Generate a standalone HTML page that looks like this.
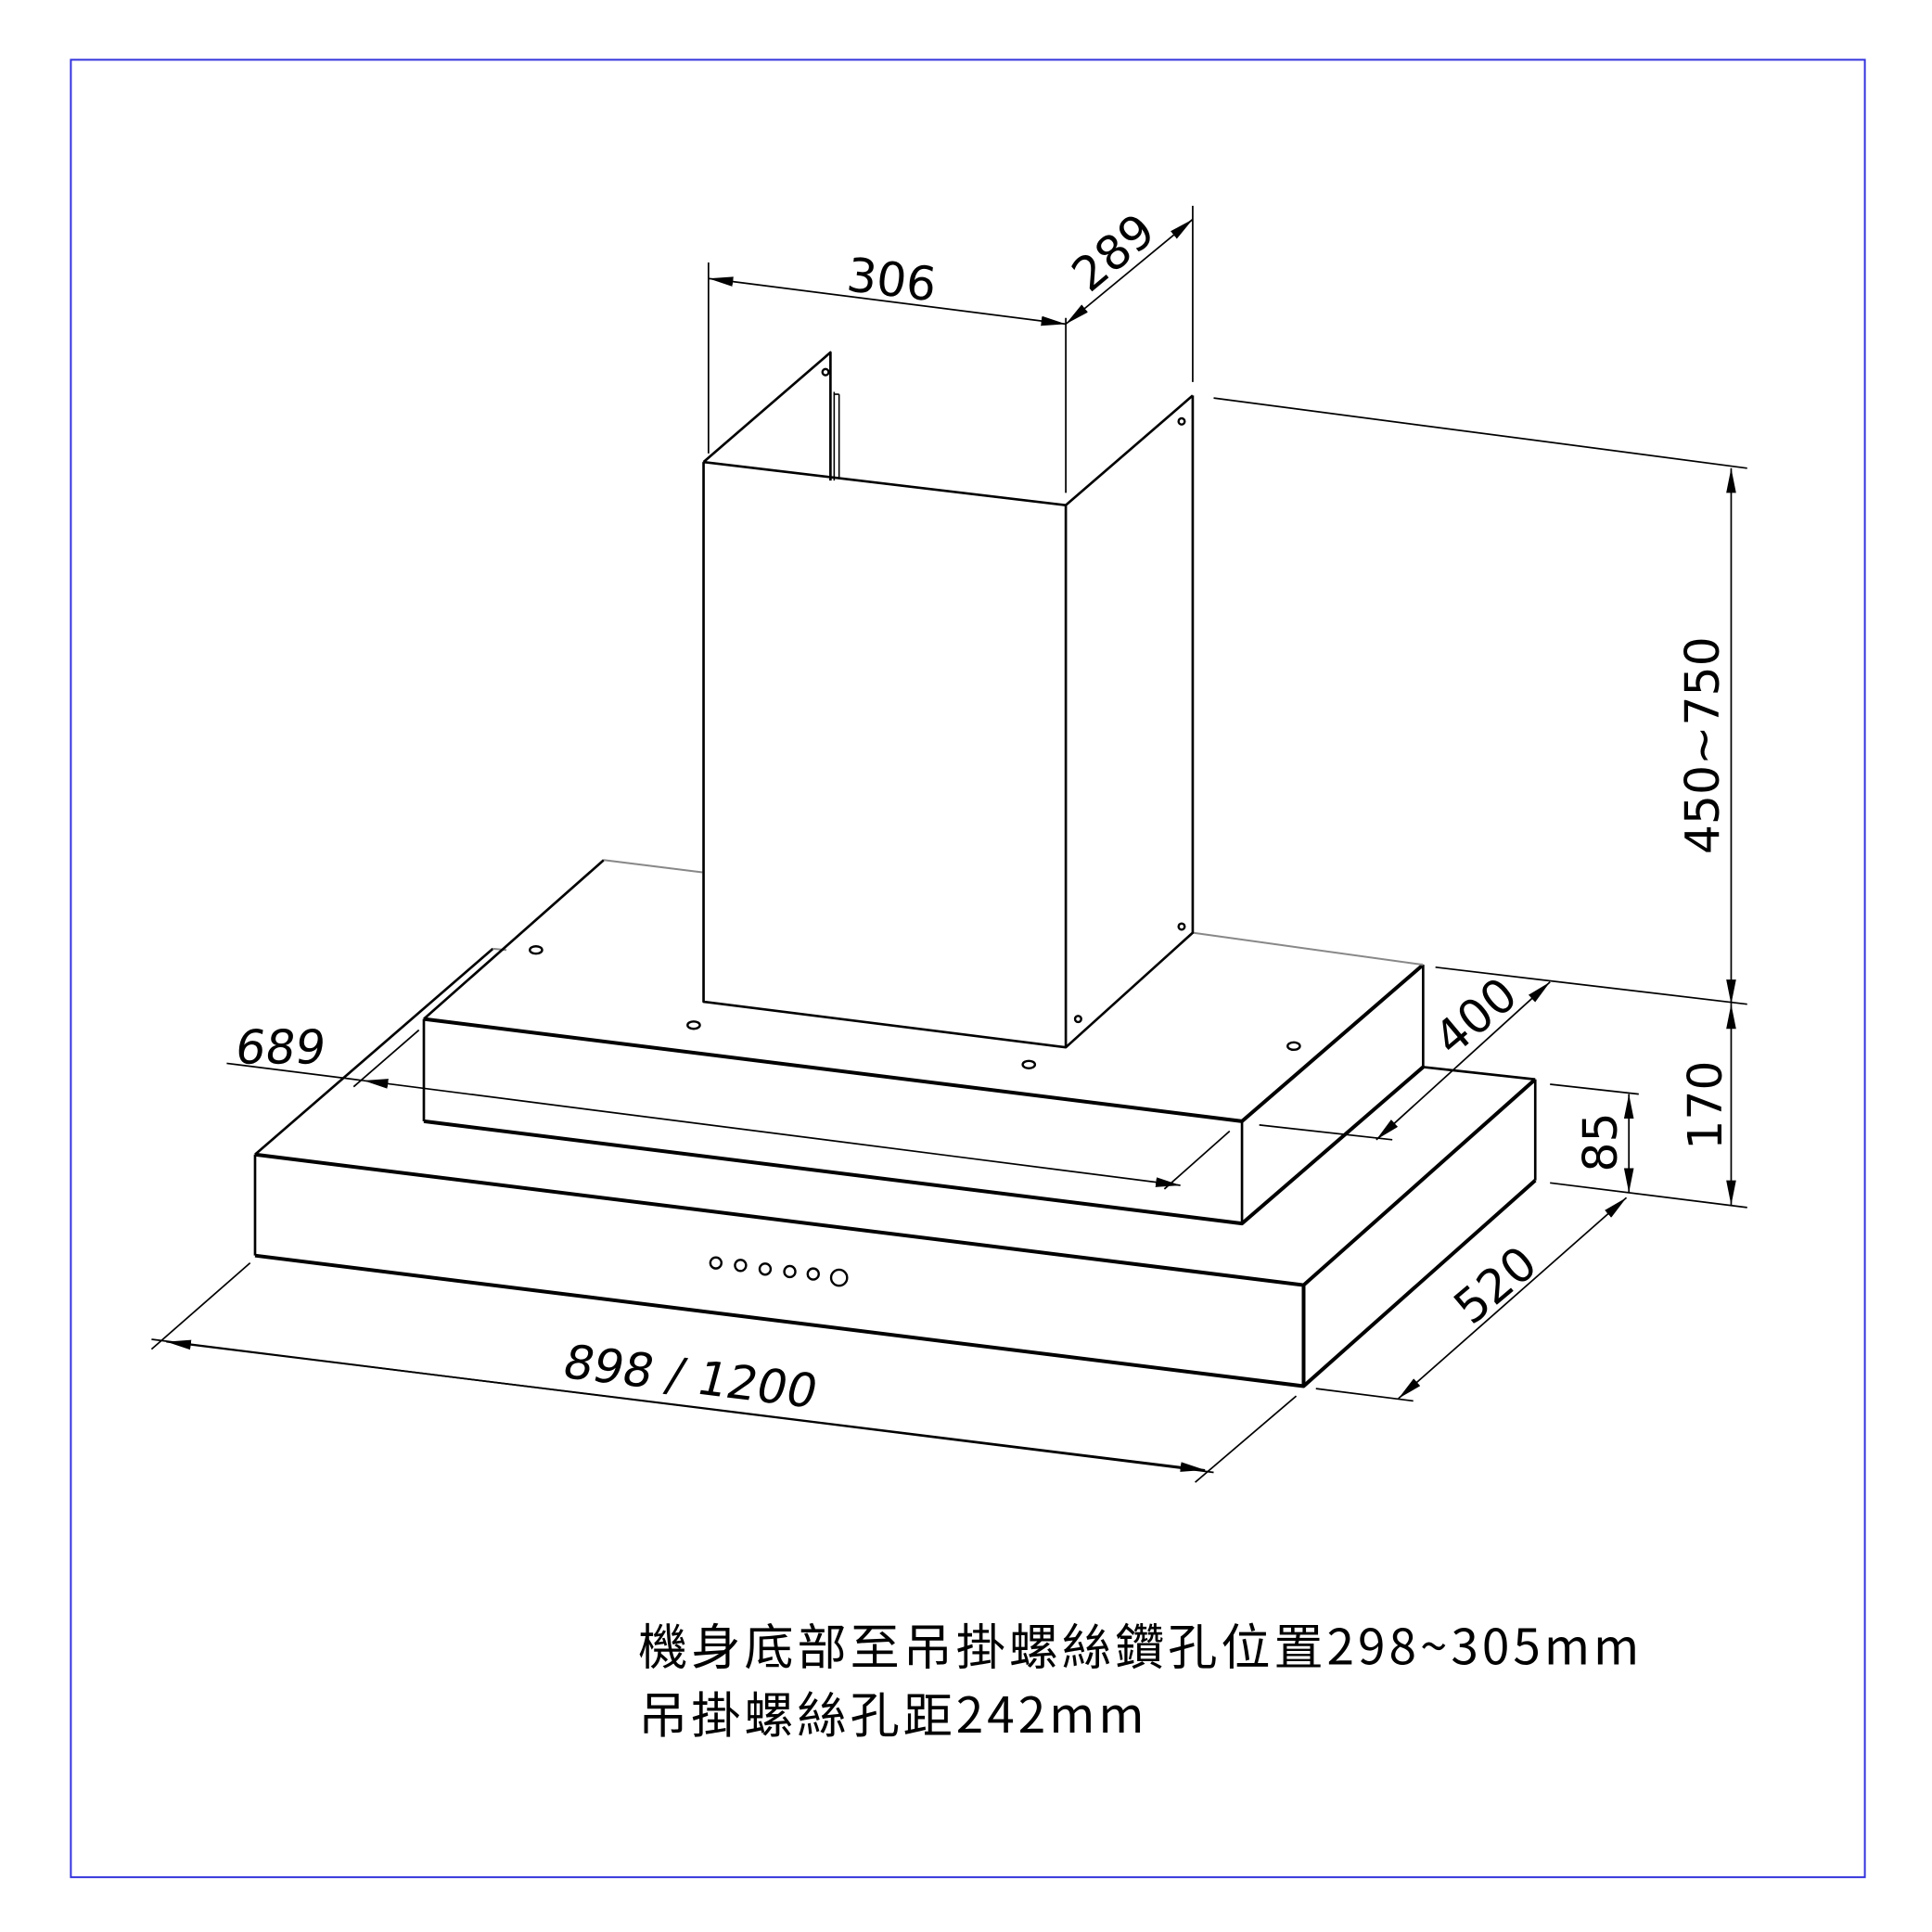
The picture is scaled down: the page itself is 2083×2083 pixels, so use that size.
<!DOCTYPE html>
<html><head><meta charset="utf-8"><style>html,body{margin:0;padding:0;background:#fff}svg{display:block}</style></head>
<body>
<svg width="2083" height="2083" viewBox="0 0 1568 1568" xmlns="http://www.w3.org/2000/svg">
<defs>
<marker id="a" viewBox="0 0 20 8" refX="20" refY="4" markerWidth="20" markerHeight="8" markerUnits="userSpaceOnUse" orient="auto-start-reverse"><path d="M0,0 L20,4 L0,8 z" fill="#000"/></marker>
</defs>
<rect x="57.5" y="48.5" width="1456" height="1475" fill="none" stroke="#3333dd" stroke-width="1.5"/>
<g fill="none" stroke="#000" stroke-linejoin="round">
<path d="M207,937 L1058,1043 L1246,876 M1058,1043 L1058,1125 M207,1019 L1058,1125 L1246,958" stroke-width="3"/>
<path d="M207,937 L207,1019 M1246,876 L1246,958 M1155,866 L1246,876 M207,937 L400,770" stroke-width="2"/>
<path d="M400,770 L411,771" stroke="#888" stroke-width="1.5"/>
<path d="M344,827 L1008,910 L1155,783 M344,910 L1008,993 L1155,866" stroke-width="3"/>
<path d="M344,827 L344,910 M1008,910 L1008,993 M1155,783 L1155,866 M344,827 L490,698" stroke-width="2"/>
<path d="M490,698 L570,708 M968,757 L1155,783" stroke="#888" stroke-width="1.5"/>
<path d="M571,375 L865,410 L968,321 M865,410 L865,850 M571,375 L571,813 L865,850 L968,757 L968,321 M571,375 L674,286 L674,390" stroke-width="2"/>
<path d="M677,318 L677,390 M681,320 L681,388 M677,320 L681,320" stroke-width="1.2"/>
<g stroke-width="1.8">
<ellipse cx="435" cy="771" rx="5" ry="3"/><ellipse cx="563" cy="832" rx="5" ry="3"/><ellipse cx="835" cy="864" rx="5" ry="3"/><ellipse cx="1050" cy="849" rx="5" ry="3"/>
<circle cx="670" cy="302" r="2.5"/><circle cx="959" cy="342" r="2.5"/><circle cx="959" cy="752" r="2.5"/><circle cx="875" cy="827" r="2.5"/>
<circle cx="581" cy="1025" r="4.5"/><circle cx="601" cy="1027" r="4.5"/><circle cx="621" cy="1030" r="4.5"/><circle cx="641" cy="1032" r="4.5"/><circle cx="660" cy="1034" r="4.5"/><circle cx="681" cy="1037" r="6.5"/>
</g>
<g stroke-width="1.3">
<path d="M575,213 L575,368 M865,258 L865,400 M968,167 L968,310"/>
<path d="M575,226 L865,263" marker-start="url(#a)" marker-end="url(#a)"/>
<path d="M865,263 L968,178" marker-start="url(#a)" marker-end="url(#a)"/>
<path d="M985,323 L1418,380 M1165,785 L1418,815 M1258,960 L1418,980 M1258,880 L1330,888"/>
<path d="M1405,380 L1405,815" marker-start="url(#a)" marker-end="url(#a)"/>
<path d="M1405,815 L1405,978" marker-start="url(#a)" marker-end="url(#a)"/>
<path d="M1322,888 L1322,968" marker-start="url(#a)" marker-end="url(#a)"/>
<path d="M1022,913 L1130,925"/>
<path d="M1117,925 L1258,797" marker-start="url(#a)" marker-end="url(#a)"/>
<path d="M1068,1127 L1147,1137"/>
<path d="M1135,1135 L1320,972" marker-start="url(#a)" marker-end="url(#a)"/>
<path d="M184,863 L295,877"/>
<path d="M295,877 L958,962" marker-start="url(#a)" marker-end="url(#a)"/>
<path d="M287,882 L340,836 M945,965 L998,918"/>
<path d="M123,1095 L203,1025 M970,1203 L1052,1133"/>
<path d="M123,1087 L985,1195"/>
<path d="M135,1089 L978,1193" marker-start="url(#a)" marker-end="url(#a)"/>
</g>
</g>
<g font-family="'DejaVu Sans','Liberation Sans',sans-serif" font-size="38" fill="#000">
<text transform="translate(722,240) rotate(7)" text-anchor="middle">306</text>
<text transform="translate(912,215) rotate(-40)" text-anchor="middle">289</text>
<text transform="translate(1395,605) rotate(-90)" text-anchor="middle">450~750</text>
<text transform="translate(1397,897) rotate(-90)" text-anchor="middle">170</text>
<text transform="translate(1312,927) rotate(-90)" text-anchor="middle">85</text>
<text transform="translate(1206,835) rotate(-40)" text-anchor="middle">400</text>
<text transform="translate(1222,1053) rotate(-40)" text-anchor="middle">520</text>
<text transform="translate(226,863) skewX(-8)" text-anchor="middle">689</text>
<text transform="translate(557,1130) rotate(7) skewX(-8)" text-anchor="middle">898 / 1200</text>
</g>
<g font-family="'Noto Sans CJK TC',sans-serif" font-size="40" fill="#000" letter-spacing="3">
<text x="518" y="1351">機身底部至吊掛螺絲鑽孔位置298~305mm</text>
<text x="518" y="1406">吊掛螺絲孔距242mm</text>
</g>
</svg>
</body></html>
